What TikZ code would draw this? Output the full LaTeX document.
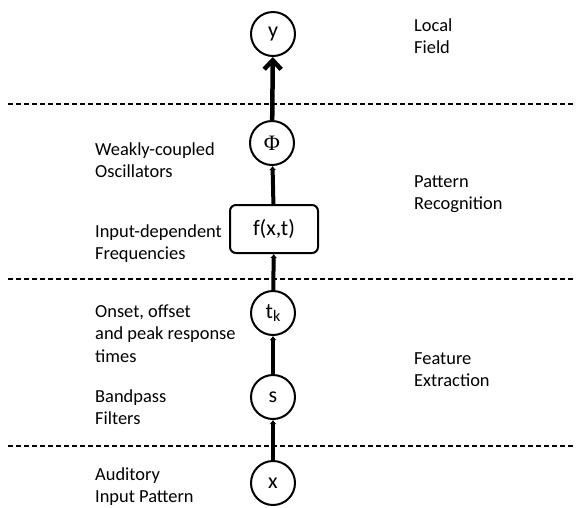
\documentclass[tikz,border=0pt]{standalone}
\usepackage{fontspec}
\setmainfont{Carlito}
\newfontfamily\phifont{Liberation Serif}
\usetikzlibrary{arrows.meta}
\begin{document}
\begin{tikzpicture}[x=1pt,y=-1pt,
  unit/.style={circle,draw,line width=2pt,minimum size=44pt,inner sep=0pt,font=\fontsize{22}{26}\selectfont},
  funcbox/.style={draw,line width=2pt,rounded corners=6pt,minimum width=88pt,minimum height=48pt,inner sep=0pt,font=\fontsize{22}{26}\selectfont},
  lbl/.style={anchor=base west,align=left,inner sep=0pt,font=\fontsize{18.4}{22.5}\selectfont},
  sep/.style={dash pattern=on 5pt off 3pt,line width=1.5pt},
  flow/.style={line width=4pt,-{Latex[length=4pt,width=7pt]}},
  bigflow/.style={line width=4.5pt,-{Straight Barb[length=9pt,width=17pt]}}
]
\useasboundingbox (0,0) rectangle (576,507);
% layer separators
\coordinate (l1a) at (8,104);  \coordinate (l1b) at (576,104);
\coordinate (l2a) at (8,279);  \coordinate (l2b) at (576,279);
\coordinate (l3a) at (8,446);  \coordinate (l3b) at (576,446);
\draw[sep] (l1a) -- (l1b);
\draw[sep] (l2a) -- (l2b);
\draw[sep] (l3a) -- (l3b);
% nodes
\node[unit] (y) at (273,34) {y};
\node[unit] (phi) at (272,143) {\phifont Φ};
\node[funcbox] (f) at (274,229) {f(x,t)};
\node[unit] (tk) at (273,313) {t\raisebox{-0.35ex}{\fontsize{16}{16}\selectfont k}};
\node[unit] (s) at (273,397) {s};
\node[unit] (x) at (273,483) {x};
% connectors
\draw[bigflow] (phi) -- (y);
\draw[flow] (f) -- (phi);
\draw[flow] (tk) -- (f);
\draw[flow] (s) -- (tk);
\draw[flow] (x) -- (s);
% left labels (anchor at baseline of last line)
\node[lbl] (t1) at (95,177.5) {Weakly-coupled\\Oscillators};
\node[lbl] (t2) at (95,259.5) {Input-dependent\\Frequencies};
\node[lbl] (t3) at (95,362) {Onset, offset\\and peak response\\times};
\node[lbl] (t4) at (95,424.5) {Bandpass\\Filters};
\node[lbl] (t5) at (95,502.5) {Auditory\\Input Pattern};
% right labels
\node[lbl] (r1) at (414,53.5) {Local\\Field};
\node[lbl] (r2) at (414,209.5) {Pattern\\Recognition};
\node[lbl] (r3) at (414,386.5) {Feature\\Extraction};
\end{tikzpicture}
\end{document}
